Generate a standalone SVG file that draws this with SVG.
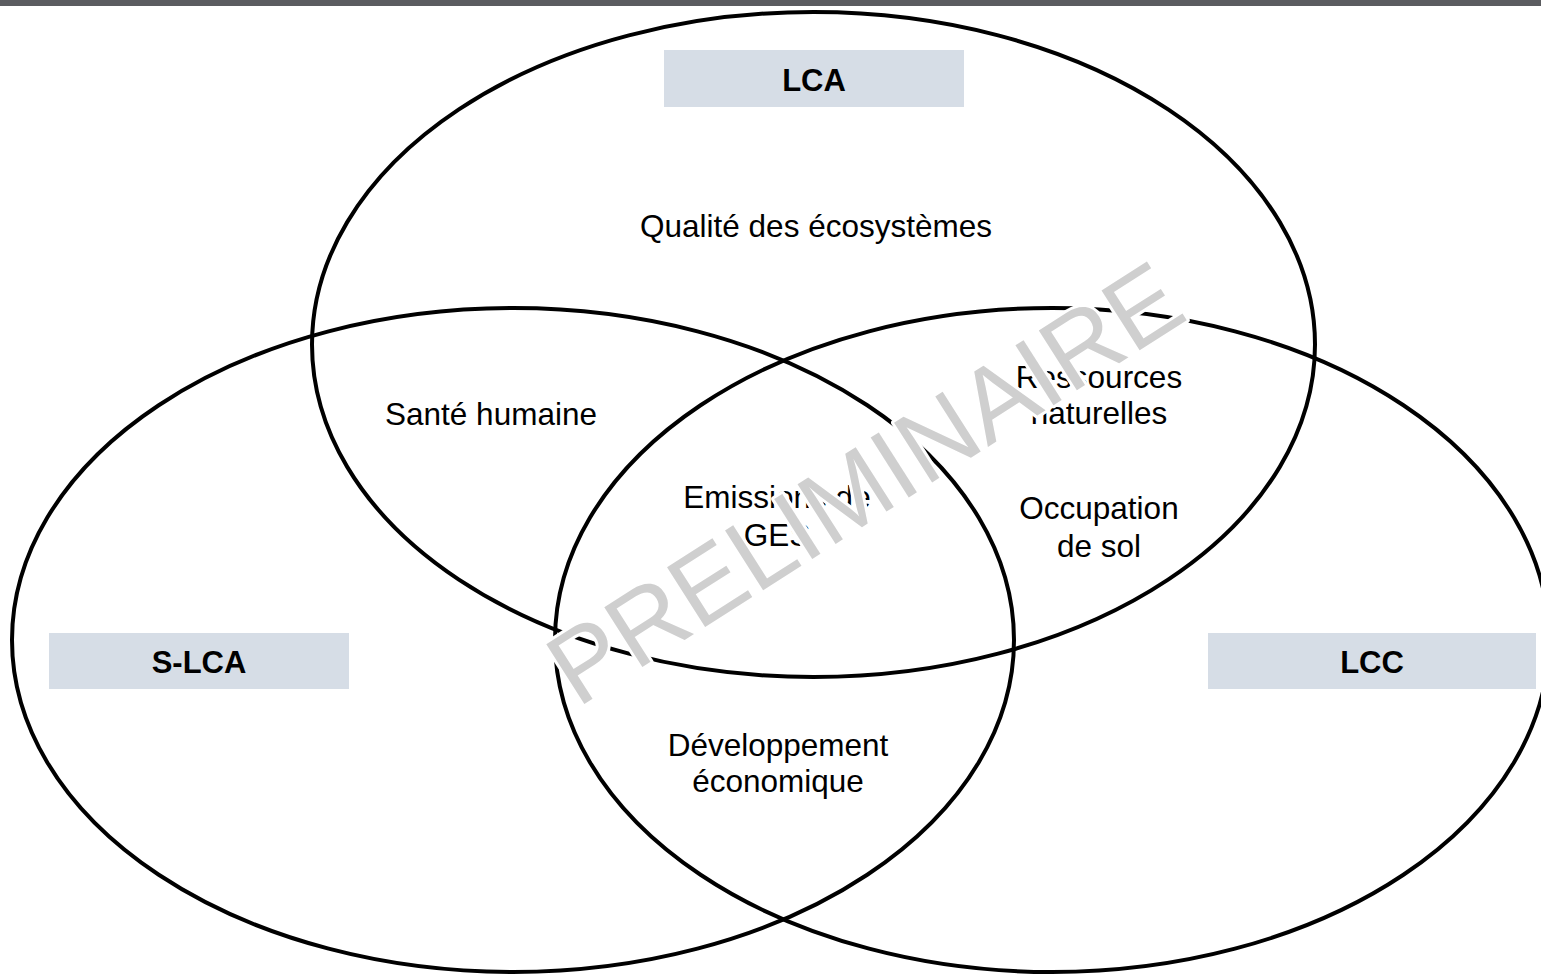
<svg xmlns="http://www.w3.org/2000/svg" width="1541" height="976" viewBox="0 0 1541 976">
<style>
.set{fill:none;stroke:#000;stroke-width:4}
.box{fill:#d6dde6}
.lbl{font-family:"Liberation Sans",Arial,sans-serif;font-size:31px;font-weight:bold;fill:#000;text-anchor:middle}
.t{font-family:"Liberation Sans",Arial,sans-serif;font-size:31.5px;fill:#000;text-anchor:middle}
.wm{font-family:"Liberation Sans",Arial,sans-serif;font-size:103px;fill:#cfcfcf;stroke:#fff;stroke-width:6;paint-order:stroke;stroke-linejoin:round;text-anchor:middle}
</style>
<rect x="0" y="0" width="1541" height="976" fill="#fff"/>
<rect x="0" y="0" width="1541" height="6" fill="#5b5c60"/>
<g id="connectors"></g>
<g id="lca">
<ellipse class="set" cx="813.5" cy="344.5" rx="501.5" ry="332.5"/>
<rect class="box" x="664" y="50" width="300" height="57"/>
<text class="lbl" x="814" y="91">LCA</text>
</g>
<g id="slca">
<ellipse class="set" cx="513" cy="640" rx="501" ry="332"/>
<rect class="box" x="49" y="633" width="300" height="56"/>
<text class="lbl" x="199" y="673">S-LCA</text>
</g>
<g id="lcc">
<ellipse class="set" cx="1052" cy="640" rx="497" ry="332"/>
<rect class="box" x="1208" y="633" width="328" height="56"/>
<text class="lbl" x="1372" y="673">LCC</text>
</g>
<g id="qualite"><text class="t" x="816" y="237">Qualité des écosystèmes</text></g>
<g id="sante"><text class="t" x="491" y="425">Santé humaine</text></g>
<g id="ressources"><text class="t" x="1099" y="388">Ressources</text><text class="t" x="1099" y="424">naturelles</text></g>
<g id="emissions"><text class="t" x="777" y="508">Emissions de</text><text class="t" x="777" y="546">GES</text></g>
<g id="occupation"><text class="t" x="1099" y="519">Occupation</text><text class="t" x="1099" y="557">de sol</text></g>
<g id="developpement"><text class="t" x="778" y="756">Développement</text><text class="t" x="778" y="792">économique</text></g>
<g id="watermark" transform="translate(864,482) rotate(-32.5)"><text class="wm" x="0" y="37">PRELIMINAIRE</text></g>
</svg>
